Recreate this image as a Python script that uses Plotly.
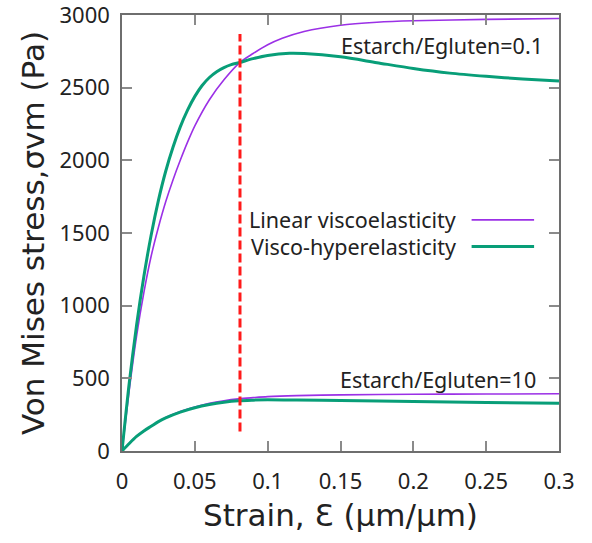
import plotly.graph_objects as go

# ---- data ----
# Estarch/Egluten = 0.1
lin01_x = [0, 0.005, 0.01, 0.015, 0.02, 0.025, 0.03, 0.035, 0.04, 0.045, 0.05, 0.06, 0.07,
           0.081, 0.09, 0.10, 0.11, 0.125, 0.15, 0.175, 0.2, 0.25, 0.3]
lin01_y = [0, 420, 790, 1090, 1340, 1540, 1715, 1865, 2000, 2125, 2237, 2417, 2554,
           2674, 2735, 2795, 2840, 2887, 2930, 2950, 2960, 2970, 2976]
hyp01_x = [0, 0.005, 0.01, 0.015, 0.02, 0.025, 0.03, 0.035, 0.04, 0.045, 0.05, 0.055, 0.06,
           0.065, 0.07, 0.075, 0.081, 0.09, 0.10, 0.115, 0.125, 0.15, 0.175, 0.2, 0.225,
           0.25, 0.275, 0.3]
hyp01_y = [0, 470, 865, 1200, 1485, 1725, 1925, 2090, 2230, 2345, 2440, 2515, 2570,
           2610, 2638, 2658, 2674, 2700, 2722, 2737, 2735, 2712, 2672, 2632, 2600,
           2578, 2560, 2546]
# Estarch/Egluten = 10
lin10_x = [0, 0.005, 0.01, 0.015, 0.02, 0.025, 0.03, 0.04, 0.05, 0.06, 0.07, 0.08,
           0.09, 0.10, 0.12, 0.15, 0.2, 0.25, 0.3]
lin10_y = [0, 52, 100, 138, 170, 202, 230, 272, 303, 328, 346, 359,
           367, 374, 381, 386, 390, 392, 394]
hyp10_x = [0, 0.005, 0.01, 0.015, 0.02, 0.025, 0.03, 0.04, 0.05, 0.06, 0.07, 0.08,
           0.09, 0.10, 0.12, 0.15, 0.2, 0.25, 0.3]
hyp10_y = [0, 52, 100, 138, 170, 202, 228, 268, 298, 320, 336, 346,
           350, 352, 351, 347, 340, 334, 328]
# red dashed marker line
mark_x = [0.081, 0.081]
mark_y = [135, 2870]

x_ticks = [0, 0.05, 0.1, 0.15, 0.2, 0.25, 0.3]
x_ticklabels = ["0", "0.05", "0.1", "0.15", "0.2", "0.25", "0.3"]
y_ticks = [0, 500, 1000, 1500, 2000, 2500, 3000]
y_ticklabels = ["0", "500", "1000", "1500", "2000", "2500", "3000"]

legend_names = ["Linear viscoelasticity", "Visco-hyperelasticity"]
label_hi = "Estarch/Egluten=0.1"
label_lo = "Estarch/Egluten=10"

PURPLE = "#9b30e6"
GREEN = "#089e78"
FONT = "Noto Sans"
TFONT = "DejaVu Sans"
TXT = "#222222"

fig = go.Figure()
for xs, ys in [(lin01_x, lin01_y), (lin10_x, lin10_y)]:
    fig.add_trace(go.Scatter(x=xs, y=ys, mode="lines", showlegend=False,
                             line=dict(color=PURPLE, width=1.6, shape="spline", smoothing=0.8)))
for xs, ys in [(hyp01_x, hyp01_y), (hyp10_x, hyp10_y)]:
    fig.add_trace(go.Scatter(x=xs, y=ys, mode="lines", showlegend=False,
                             line=dict(color=GREEN, width=3, shape="spline", smoothing=0.8)))
fig.add_trace(go.Scatter(x=mark_x, y=mark_y, mode="lines", showlegend=False,
                         line=dict(color="#ff1a1a", width=3, dash="9px,4px")))

axis_common = dict(
    showgrid=False, zeroline=False, showline=True, linecolor="#6e6e6e", linewidth=1.5,
    mirror="allticks", ticks="inside", ticklen=10, tickcolor="#8a8a8a", tickwidth=1.5,
    tickfont=dict(family=FONT, size=22, color=TXT), automargin=False,
    ticklabeloverflow="allow",
)
fig.update_xaxes(range=[0, 0.3], tickvals=x_ticks, ticktext=x_ticklabels,
                 title=dict(text="Strain, Ɛ (μm/μm)", font=dict(family=TFONT, size=31, color=TXT),
                            standoff=10),
                 ticklabelstandoff=10, **axis_common)
fig.update_yaxes(range=[0, 3000], tickvals=y_ticks, ticktext=y_ticklabels,
                 title=dict(text="Von Mises stress,σvm (Pa)", font=dict(family=TFONT, size=31, color=TXT),
                            standoff=6),
                 ticklabelstandoff=6, **axis_common)

# manual gnuplot-style key (text left, sample right)
key_rows = [(0.530, PURPLE, 1.6), (0.469, GREEN, 3)]
for name, (yp, col, w) in zip(legend_names, key_rows):
    fig.add_annotation(x=0.769, y=yp, xref="paper", yref="paper", text=name, showarrow=False,
                       xanchor="right", yanchor="middle",
                       font=dict(family=FONT, size=21.5, color=TXT))
    fig.add_shape(type="line", xref="paper", yref="paper", x0=0.800, x1=0.943, y0=yp, y1=yp,
                  line=dict(color=col, width=w))

fig.add_annotation(x=0.968, y=0.931, xref="paper", yref="paper", text=label_hi, showarrow=False,
                   xanchor="right", yanchor="middle", font=dict(family=FONT, size=21.5, color=TXT))
fig.add_annotation(x=0.953, y=0.163, xref="paper", yref="paper", text=label_lo, showarrow=False,
                   xanchor="right", yanchor="middle", font=dict(family=FONT, size=21.5, color=TXT))

fig.update_layout(width=592, height=543, plot_bgcolor="white", paper_bgcolor="white",
                  margin=dict(l=122, r=33, t=15, b=92), showlegend=False)

fig.write_html("out.html")
